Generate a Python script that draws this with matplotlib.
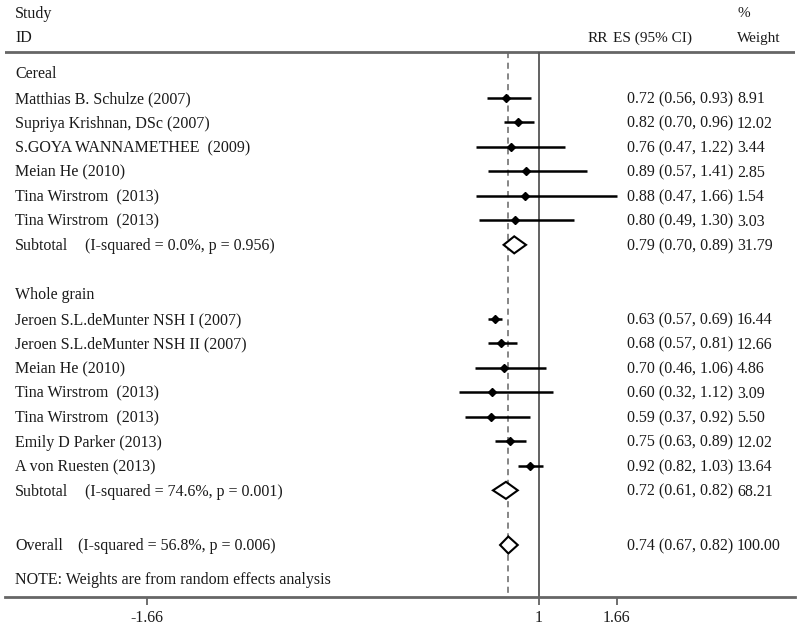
import matplotlib
matplotlib.use("Agg")
import matplotlib.pyplot as plt

# ---------------- data ----------------
cereal_studies = ["Matthias B. Schulze (2007)", "Supriya Krishnan, DSc (2007)",
                  "S.GOYA WANNAMETHEE  (2009)", "Meian He (2010)",
                  "Tina Wirstrom  (2013)", "Tina Wirstrom  (2013)"]
cereal_es = [0.72, 0.82, 0.76, 0.89, 0.88, 0.80]
cereal_lo = [0.56, 0.70, 0.47, 0.57, 0.47, 0.49]
cereal_hi = [0.93, 0.96, 1.22, 1.41, 1.66, 1.30]
cereal_w = ["8.91", "12.02", "3.44", "2.85", "1.54", "3.03"]
cereal_sub = (0.79, 0.70, 0.89, "31.79", "0.0%", "0.956")

whole_studies = ["Jeroen S.L.deMunter NSH I (2007)", "Jeroen S.L.deMunter NSH II (2007)",
                 "Meian He (2010)", "Tina Wirstrom  (2013)", "Tina Wirstrom  (2013)",
                 "Emily D Parker (2013)", "A von Ruesten (2013)"]
whole_es = [0.63, 0.68, 0.70, 0.60, 0.59, 0.75, 0.92]
whole_lo = [0.57, 0.57, 0.46, 0.32, 0.37, 0.63, 0.82]
whole_hi = [0.69, 0.81, 1.06, 1.12, 0.92, 0.89, 1.03]
whole_w = ["16.44", "12.66", "4.86", "3.09", "5.50", "12.02", "13.64"]
whole_sub = (0.72, 0.61, 0.82, "68.21", "74.6%", "0.001")

overall = (0.74, 0.67, 0.82, "100.00", "56.8%", "0.006")

tick_values = [-2.32, 1, 1.66]
tick_labels = ["-1.66", "1", "1.66"]

# ---------------- layout ----------------
W, H = 800, 625
fig = plt.figure(figsize=(8, 6.25), dpi=100)
plt.rcParams['font.family'] = ['Liberation Serif', 'DejaVu Serif']

scale = 118.0      # px per unit
x_one = 539.0      # px position of 1
ax_left, ax_right = 5.0, 795.0
y_bottom_line, y_top_line = 597.0, 52.0
ax = fig.add_axes([ax_left / W, (H - y_bottom_line) / H, (ax_right - ax_left) / W, y_bottom_line / H])
ax.set_xlim(1 - (x_one - ax_left) / scale, 1 + (ax_right - x_one) / scale)
ax.set_ylim(y_bottom_line, 0)
for s in ["left", "right", "top"]:
    ax.spines[s].set_visible(False)
ax.spines["bottom"].set_color("#666666")
ax.spines["bottom"].set_linewidth(2.0)
ax.set_yticks([])
ax.set_xticks(tick_values)
ax.set_xticklabels(tick_labels)
ax.tick_params(axis="x", direction="out", length=6, width=1.2, color="#555555",
               labelsize=11.5, labelcolor="#1a1a1a", pad=3)

fs = 11.5
hfs = 11
tc = "#1a1a1a"
toff = 1.5   # small downward nudge of text relative to marks (px)


def px(x):
    return 1 + (x - x_one) / scale


x_label = px(15)
x_es = px(627)
x_w = px(737)


def txt(x, y, s, size=fs, ha="left"):
    ax.text(x, y + toff, s, fontsize=size, color=tc, va="center", ha=ha)


ax.axhline(y_top_line, color="#666666", lw=2.0, xmin=0, xmax=1)
ax.vlines(1, y_top_line, y_bottom_line, color="#555555", lw=1.3)
ax.vlines(overall[0], y_top_line, y_bottom_line, color="#666666", lw=1.1,
          linestyles=(0, (4, 3)))

# header
txt(x_label, 12, "Study")
txt(x_label, 37, "ID")
txt(px(608), 37, "RR", size=hfs, ha="right")
txt(px(613), 37, "ES (95% CI)", size=hfs)
txt(x_w, 12, "%", size=hfs)
txt(x_w, 37, "Weight", size=hfs)

row0, dy = 73.0, 24.55


def row_y(i):
    return row0 + i * dy


def draw_study(y, name, es, lo, hi, w):
    txt(x_label, y, name)
    ax.plot([lo, hi], [y, y], color="black", lw=1.8, solid_capstyle="butt")
    ax.plot([es], [y], marker="D", ms=4.2, color="black")
    txt(x_es, y, f"{es:.2f} ({lo:.2f}, {hi:.2f})")
    txt(x_w, y, w)


def draw_diamond(y, label, summ, paren_px, h=8.5):
    es, lo, hi, w, i2, p = summ
    txt(x_label, y, label)
    txt(px(paren_px), y, f"(I-squared = {i2}, p = {p})")
    ax.fill([lo, es, hi, es, lo], [y, y - h, y, y + h, y], facecolor="white",
            edgecolor="black", lw=1.5, zorder=3)
    txt(x_es, y, f"{es:.2f} ({lo:.2f}, {hi:.2f})")
    txt(x_w, y, w)


# Cereal group
txt(x_label, row_y(0), "Cereal")
for i, (n, e, l, h, w) in enumerate(zip(cereal_studies, cereal_es, cereal_lo, cereal_hi, cereal_w)):
    draw_study(row_y(i + 1), n, e, l, h, w)
draw_diamond(row_y(len(cereal_studies) + 1), "Subtotal", cereal_sub, 85)

# Whole grain group
g2 = len(cereal_studies) + 3
txt(x_label, row_y(g2), "Whole grain")
for i, (n, e, l, h, w) in enumerate(zip(whole_studies, whole_es, whole_lo, whole_hi, whole_w)):
    draw_study(row_y(g2 + i + 1), n, e, l, h, w)
draw_diamond(row_y(g2 + len(whole_studies) + 1), "Subtotal", whole_sub, 85)

# Overall
draw_diamond(545, "Overall", overall, 78)
txt(x_label, 579, "NOTE: Weights are from random effects analysis")

fig.savefig("out.png", dpi=100, facecolor="white")
